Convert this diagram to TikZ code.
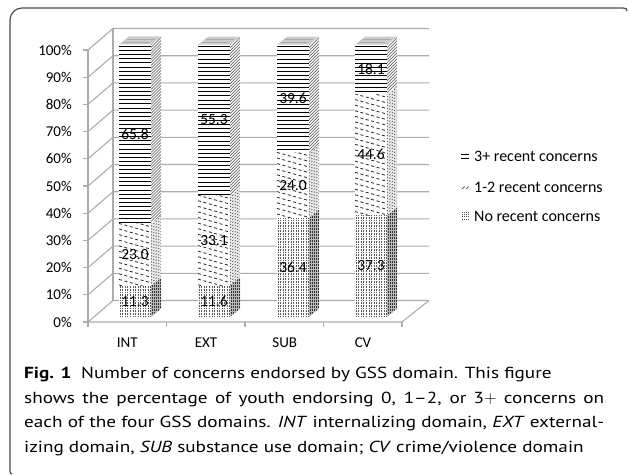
\documentclass[tikz,border=0pt]{standalone}
\usepackage{fontspec}
\setmainfont{PT Sans}[FakeStretch=1.2]
\newfontfamily\chartfont{Carlito}
\tikzset{
  gridline/.style={draw=gray!65, line width=1.1pt},
  framecol/.style={draw=black!70, line width=1.2pt},
  axlab/.style={font=\chartfont\fontsize{15}{18}\selectfont, anchor=east, inner sep=0pt},
  catlab/.style={font=\chartfont\fontsize{15}{18}\selectfont, inner sep=0pt},
  vallab/.style={font=\chartfont\fontsize{15.5}{18}\selectfont, inner sep=0pt},
  leglab/.style={font=\chartfont\fontsize{16}{18}\selectfont, anchor=west, inner sep=0pt},
}
\newcommand\barseg[4]{%
  \pgfmathsetmacro\xl{#1}\pgfmathsetmacro\xr{#1+32}\pgfmathsetmacro\xs{#1+42}%
  \fill[white] (\xl,#2) rectangle (\xr,#3);
  \ifcase#4\or
    % no recent concerns: dotted vertical
    \begin{scope}\clip (\xl,#2) rectangle (\xr,#3);
      \foreach \k in {0,...,12}{\draw[gray!70!black, line width=0.8pt, dash pattern=on 0.7pt off 0.9pt] (\xl+1.2+2.55*\k,#2) -- (\xl+1.2+2.55*\k,#3);}
    \end{scope}
    \fill[gray!55] (\xr,#2) -- (\xs,#2-8) -- (\xs,#3-8) -- (\xr,#3) -- cycle;
    \begin{scope}\clip (\xr,#2) -- (\xs,#2-8) -- (\xs,#3-8) -- (\xr,#3) -- cycle;
      \foreach \k in {0,...,5}{\draw[gray!40!black, line width=0.7pt, dash pattern=on 0.7pt off 0.8pt] (\xr+1+2*\k,#2) -- (\xr+1+2*\k,#3-9);}
    \end{scope}
  \or
    % 1-2 recent concerns: slanted dashes
    \begin{scope}\clip (\xl,#2) rectangle (\xr,#3);
      \foreach \k in {-3,...,55}{\draw[black!85, line width=0.8pt, dash pattern=on 3pt off 2.6pt] (\xl,#3+\k*5.6) -- ++(32,9);}
    \end{scope}
    \fill[gray!15] (\xr,#2) -- (\xs,#2-8) -- (\xs,#3-8) -- (\xr,#3) -- cycle;
    \begin{scope}\clip (\xr,#2) -- (\xs,#2-8) -- (\xs,#3-8) -- (\xr,#3) -- cycle;
      \foreach \k in {-3,...,70}{\draw[black!65, line width=0.7pt, dash pattern=on 1.4pt off 2pt] (\xr,#3+\k*3) -- ++(10,-10);}
    \end{scope}
  \or
    % 3+ recent concerns: horizontal lines
    \begin{scope}\clip (\xl,#2) rectangle (\xr,#3);
      \foreach \k in {0,...,70}{\draw[black, line width=0.85pt] (\xl,#3+2+\k*4.1) -- ++(32,0);}
    \end{scope}
    \fill[white] (\xr,#2) -- (\xs,#2-8) -- (\xs,#3-8) -- (\xr,#3) -- cycle;
    \begin{scope}\clip (\xr,#2) -- (\xs,#2-8) -- (\xs,#3-8) -- (\xr,#3) -- cycle;
      \foreach \k in {-5,...,80}{\draw[black!70, line width=0.6pt] (\xr,#3+\k*3) -- ++(10,-10);}
    \end{scope}
  \fi
}
\newcommand\mybar[5]{%
  \pgfmathsetmacro\ya{316.7}%
  \pgfmathsetmacro\yb{316.7-2.72*#3}%
  \pgfmathsetmacro\yc{316.7-2.72*(#3+#4)}%
  \pgfmathsetmacro\yd{316.7-2.72*(#3+#4+#5)}%
  \barseg{#2}{\ya}{\yb}{1}
  \barseg{#2}{\yb}{\yc}{2}
  \barseg{#2}{\yc}{\yd}{3}
  \fill[gray!40] (#2,\yd) -- (#2+32,\yd) -- (#2+42,\yd-8) -- (#2+10,\yd-8) -- cycle;
  \draw[gray!65, line width=0.5pt] (#2+4,\yd-2) -- (#2+30,\yd-2) (#2+8,\yd-5) -- (#2+36,\yd-5);
  \node[vallab] (#1a) at (#2+16,{(\ya+\yb)/2}) {#3};
  \node[vallab] (#1b) at (#2+16,{(\yb+\yc)/2}) {#4};
  \node[vallab] (#1c) at (#2+16,{(\yc+\yd)/2}) {#5};
}
\begin{document}
\begin{tikzpicture}[x=1pt,y=-1pt]
\useasboundingbox (0,0) rectangle (629,474);
% frame
\draw[framecol, rounded corners=12pt] (10,471) -- (10,8) -- (623,8);
\draw[framecol] (623,8) .. controls (626,8) and (627,9) .. (627,11);
\draw[framecol] (10,471) .. controls (10,473) .. (12,474);
% back wall gridlines
\foreach \i in {0,...,10}{
  \draw[gridline] (88,322-27.2*\i) -- (113,300.5-27.2*\i) -- (429,300.5-27.2*\i);
  \draw[gridline] (83,322-27.2*\i) -- (88,322-27.2*\i);
}
\draw[gridline] (113,300.5) -- (113,28.5);
\draw[gridline] (88,322) -- (88,50);
% floor
\draw[gridline] (88,322) -- (402,322) -- (429,300.5);
\foreach \xx in {88,166.5,245,323.5,402}{\draw[gridline] (\xx,322) -- (\xx,327);}
% axis labels
\foreach \i in {0,...,10}{
  \node[axlab] (yl\i) at (72,322-27.2*\i) {\the\numexpr\i*10\relax\%};
}
\node[catlab] (cINT) at (127.3,343) {INT};
\node[catlab] (cEXT) at (206,343) {EXT};
\node[catlab] (cSUB) at (284.7,343) {SUB};
\node[catlab] (cCV) at (363,343) {CV};
% bars
\mybar{int}{119}{11.3}{23.0}{65.8}
\mybar{ext}{198}{11.6}{33.1}{55.3}
\mybar{sub}{277}{36.4}{24.0}{39.6}
\mybar{cv}{355}{37.3}{44.6}{18.1}
% legend
\draw[black, line width=0.8pt] (461,154) -- (469,154) (461,158) -- (469,158);
\draw[black!70, line width=0.7pt] (462,189) -- (464.5,186.5) (466,189) -- (468.5,186.5);
\foreach \a in {0,...,3}{\foreach \b in {0,...,3}{\fill[gray!60!black] (461.5+2.2*\a,212+2.2*\b) rectangle ++(1,1);}}
\node[leglab] (l1) at (474,156) {3+ recent concerns};
\node[leglab] (l2) at (474,187) {1-2 recent concerns};
\node[leglab] (l3) at (474,216) {No recent concerns};
% caption
\node[anchor=north west, inner sep=0pt, text width=580pt, align=justify, font=\fontsize{16}{24.5}\selectfont] (cap) at (24,367) {\parfillskip=0pt \textbf{Fig. 1}\hspace{0.6em}Number of concerns endorsed by GSS domain. This figure\newline shows the percentage of youth endorsing 0, 1--2, or 3$+$ concerns on\linebreak each of the four GSS domains. \textit{INT} internalizing domain, \textit{EXT} external-\linebreak izing domain, \textit{SUB} substance use domain; \textit{CV} crime/violence domain};
\end{tikzpicture}
\end{document}
